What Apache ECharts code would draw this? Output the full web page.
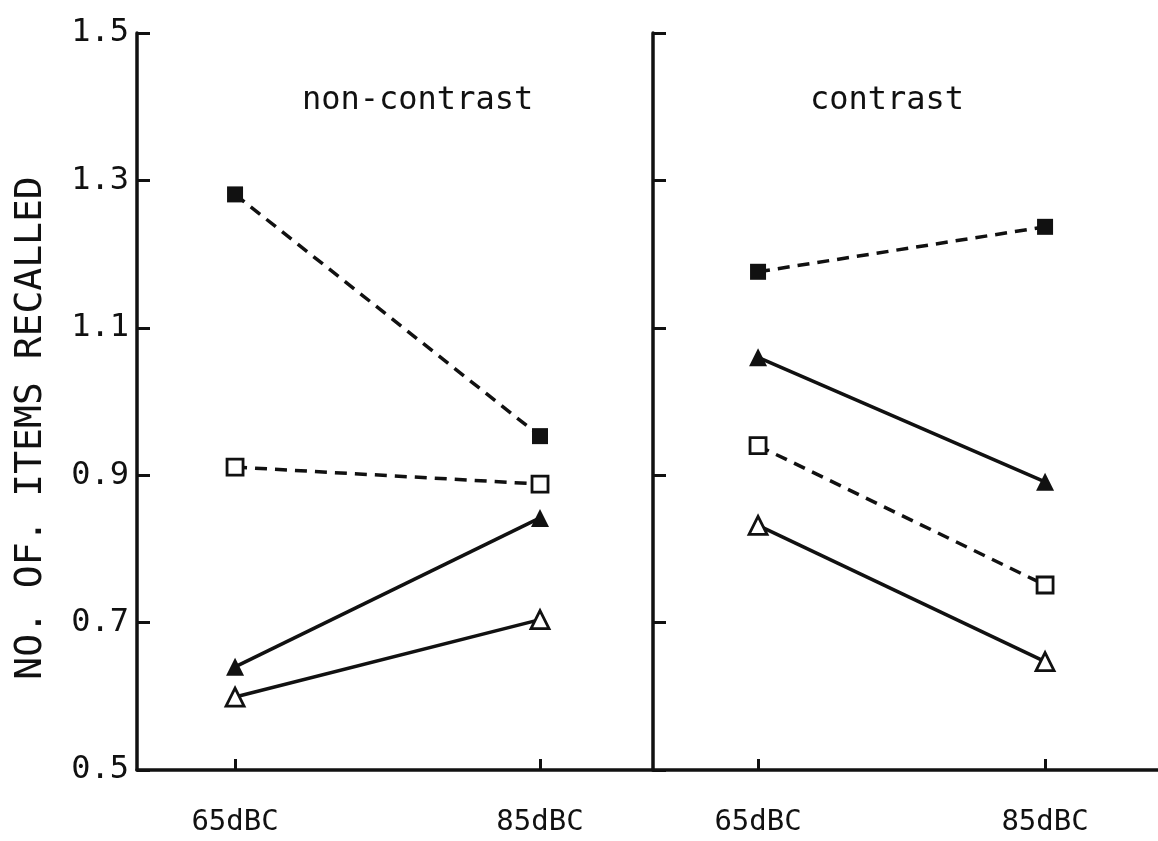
<!DOCTYPE html>
<html>
<head>
<meta charset="utf-8">
<script src="https://cdn.jsdelivr.net/npm/echarts@6/dist/echarts.min.js"></script>
<style>
  html, body { margin: 0; padding: 0; background: #fff; }
  #chart { width: 1158px; height: 841px; }
</style>
</head>
<body>
<div id="chart"></div>
<script>
// Sound levels on the x axis (dBC) and their tick labels
const levels = [65, 85];
const levelLabels = ['65dBC', '85dBC'];
// Y tick values
const yTicks = [0.5, 0.7, 0.9, 1.1, 1.3, 1.5];
const panelTitles = ['non-contrast', 'contrast'];
const yTitle = 'NO. OF. ITEMS RECALLED';

// Mean items recalled at 65 and 85 dBC, non-contrast panel
const ncFilledSquare = [1.281, 0.953];
const ncOpenSquare   = [0.911, 0.888];
const ncFilledTri    = [0.640, 0.842];
const ncOpenTri      = [0.599, 0.704];
// Contrast panel
const cFilledSquare  = [1.176, 1.237];
const cFilledTri     = [1.060, 0.891];
const cOpenSquare    = [0.940, 0.751];
const cOpenTri       = [0.832, 0.647];

const INK = '#111';
const FONT = '"DejaVu Sans Mono", "Liberation Mono", monospace';

function pts(vals) { return levels.map((x, i) => [x, vals[i]]); }

function makeSeries(vals, grid, symbol, filled, dashed) {
  return {
    type: 'line',
    xAxisIndex: grid, yAxisIndex: grid,
    data: pts(vals),
    symbol: symbol,
    symbolSize: symbol === 'rect' ? 16 : 18,
    showAllSymbol: true,
    lineStyle: { color: INK, width: 3.5, type: dashed ? [12, 8] : 'solid' },
    itemStyle: { color: filled ? INK : '#fff', borderColor: INK, borderWidth: filled ? 0 : 2.8 },
    emphasis: { disabled: true },
    animation: false
  };
}

function xAxis(grid, min, max) {
  return {
    type: 'value', gridIndex: grid, min: min, max: max,
    splitLine: { show: false },
    axisLine: { show: true, lineStyle: { color: INK, width: 3.5 } },
    axisTick: { show: true, inside: true, length: 11, customValues: levels, lineStyle: { color: INK, width: 3 } },
    axisLabel: {
      show: true, customValues: levels, margin: 38,
      formatter: v => levelLabels[levels.indexOf(v)],
      color: INK, fontFamily: FONT, fontSize: 29
    }
  };
}

function yAxis(grid, withLabels) {
  return {
    type: 'value', gridIndex: grid, min: 0.5, max: 1.5,
    splitLine: { show: false },
    axisLine: { show: true, lineStyle: { color: INK, width: 3.5 } },
    axisTick: { show: true, inside: true, length: 13, customValues: yTicks, lineStyle: { color: INK, width: 3 } },
    axisLabel: {
      show: withLabels, customValues: yTicks, margin: 8,
      formatter: v => v.toFixed(1),
      color: INK, fontFamily: FONT, fontSize: 32
    }
  };
}

const chart = echarts.init(document.getElementById('chart'), null, { renderer: 'canvas' });
chart.setOption({
  backgroundColor: '#fff',
  animation: false,
  title: [
    { text: panelTitles[0], left: 297, top: 80, textStyle: { color: INK, fontFamily: FONT, fontSize: 32, fontWeight: 'normal' } },
    { text: panelTitles[1], left: 805, top: 80, textStyle: { color: INK, fontFamily: FONT, fontSize: 32, fontWeight: 'normal' } }
  ],
  graphic: [{
    type: 'text', x: 31, y: 428, rotation: Math.PI / 2,
    style: { text: yTitle, fill: INK, font: '38px ' + FONT, align: 'center', verticalAlign: 'middle' }
  }],
  grid: [
    { left: 137, top: 33, width: 516, height: 737 },
    { left: 653, top: 33, width: 505, height: 737 }
  ],
  xAxis: [xAxis(0, 58.57, 92.41), xAxis(1, 57.68, 92.87)],
  yAxis: [yAxis(0, true), yAxis(1, false)],
  series: [
    makeSeries(ncFilledSquare, 0, 'rect', true, true),
    makeSeries(ncOpenSquare, 0, 'rect', false, true),
    makeSeries(ncFilledTri, 0, 'triangle', true, false),
    makeSeries(ncOpenTri, 0, 'triangle', false, false),
    makeSeries(cFilledSquare, 1, 'rect', true, true),
    makeSeries(cFilledTri, 1, 'triangle', true, false),
    makeSeries(cOpenSquare, 1, 'rect', false, true),
    makeSeries(cOpenTri, 1, 'triangle', false, false)
  ]
});
</script>
</body>
</html>
